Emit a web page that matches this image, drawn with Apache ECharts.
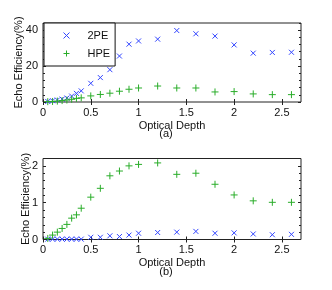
<!DOCTYPE html>
<html><head><meta charset="utf-8">
<script src="https://cdn.jsdelivr.net/npm/echarts@6/dist/echarts.min.js"></script>
<style>html,body{margin:0;padding:0;background:#fff}#c{width:332px;height:290px}</style>
</head><body><div id="c"></div>
<script>
const depth = [0.05,0.1,0.15,0.2,0.25,0.3,0.35,0.4,0.5,0.6,0.7,0.8,0.9,1.0,1.2,1.4,1.6,1.8,2.0,2.2,2.4,2.6];
const top2PE = [0.3,0.7,1.1,1.6,2.2,3.3,4.8,6.2,10.4,13.6,18,25.6,32.2,34,35,39.8,38,36.7,31.8,27.2,27.6,27.7];
const topHPE = [0.2,0.3,0.5,0.8,1.1,1.5,2.0,2.3,3.4,4.2,4.9,6,7.1,7.8,8.9,7.8,7.8,5.6,5.8,4.5,4.1,4.1];
const bot2PE = [0.01,0.01,0.01,0.01,0.01,0.01,0.01,0.01,0.06,0.06,0.1,0.08,0.12,0.17,0.19,0.2,0.22,0.17,0.18,0.15,0.13,0.14];
const botHPE = [0.03,0.12,0.2,0.3,0.41,0.58,0.67,0.85,1.15,1.39,1.73,1.86,2.0,2.04,2.08,1.77,1.8,1.5,1.21,1.05,1.01,1.01];
const xTicks = [0,0.5,1,1.5,2,2.5];
const topYTicks = [0,20,40];
const botYTicks = [0,1,2];
const topYMinor = [0,4,8,12,16,20,24,28,32,36,40,44];
const botYMinor = [0,0.2,0.4,0.6,0.8,1,1.2,1.4,1.6,1.8,2,2.2];

const FONT = 'Liberation Sans, Arial, sans-serif';
const BLUE = '#3346ff', GREEN = '#2aad2a';
const X_SYM = 'path://M0,0L10,10M10,0L0,10';
const P_SYM = 'path://M5,0L5,10M0,5L10,5';

function pairs(xs, ys){ return xs.map((x,i)=>[x, ys[i]]); }

const grids = [
  {left:43, top:23, width:258, height:79, show:true, borderColor:'#222', borderWidth:1},
  {left:43, top:158.5, width:258, height:81, show:true, borderColor:'#222', borderWidth:1}
];
const xAxes = [], yAxes = [];
[0,1].forEach(g=>{
  xAxes.push({gridIndex:g, type:'value', min:0, max:2.7, position:'bottom',
    name:'Optical Depth', nameLocation:'middle', nameGap:18, nameMoveOverlap:false,
    nameTextStyle:{fontFamily:FONT, fontSize:11, color:'#111'},
    axisLine:{show:false}, splitLine:{show:false},
    axisTick:{inside:true, length:3, customValues:xTicks, lineStyle:{color:'#222'}},
    axisLabel:{customValues:xTicks, fontFamily:FONT, fontSize:11, color:'#111', margin:5}});
  xAxes.push({gridIndex:g, type:'value', min:0, max:2.7, position:'top',
    axisLine:{show:false}, splitLine:{show:false}, axisLabel:{show:false},
    axisTick:{inside:true, length:3, customValues:xTicks, lineStyle:{color:'#222'}}});
  const max = g===0?44:2.2, maj = g===0?topYTicks:botYTicks, mnr = g===0?topYMinor:botYMinor;
  yAxes.push({gridIndex:g, type:'value', min:0, max:max, position:'left',
    name:'Echo Efficiency(%)', nameLocation:'middle', nameGap: g===0?18.5:12, nameMoveOverlap:false,
    nameTextStyle:{fontFamily:FONT, fontSize:11, color:'#111'},
    axisLine:{show:false}, splitLine:{show:false},
    axisTick:{inside:true, length:3, customValues:maj, lineStyle:{color:'#222'}},
    axisLabel:{customValues:maj, fontFamily:FONT, fontSize:11, color:'#111', margin:5}});
  yAxes.push({gridIndex:g, type:'value', min:0, max:max, position:'left',
    axisLine:{show:false}, splitLine:{show:false}, axisLabel:{show:false},
    axisTick:{inside:true, length:2, customValues:mnr, lineStyle:{color:'#222'}}});
  yAxes.push({gridIndex:g, type:'value', min:0, max:max, position:'right',
    axisLine:{show:false}, splitLine:{show:false}, axisLabel:{show:false},
    axisTick:{inside:true, length:3, customValues:maj, lineStyle:{color:'#222'}}});
  yAxes.push({gridIndex:g, type:'value', min:0, max:max, position:'right',
    axisLine:{show:false}, splitLine:{show:false}, axisLabel:{show:false},
    axisTick:{inside:true, length:2, customValues:mnr, lineStyle:{color:'#222'}}});
});

function sc(name, g, ys, sym, col, size){
  return {name:name, type:'scatter', xAxisIndex:g*2, yAxisIndex:g*4, symbol:sym, symbolSize:size,
    data:pairs(depth, ys), silent:true,
    itemStyle:{color:col, borderColor:col, borderWidth:1, opacity:1}};
}

const chart = echarts.init(document.getElementById('c'), null, {renderer:'canvas'});
chart.setOption({
  animation:false,
  backgroundColor:'#fff',
  grid:grids, xAxis:xAxes, yAxis:yAxes,
  legend:{data:['2PE','HPE'],
    orient:'vertical', left:44, top:23,
    padding:[7,5,7,19], itemGap:7, itemWidth:32, itemHeight:6,
    itemStyle:{borderWidth:1},
    borderColor:'#111', borderWidth:1, backgroundColor:'#fff',
    textStyle:{fontFamily:FONT, fontSize:11, color:'#111'}},
  graphic:[
    {type:'text', left:'center', top:128.5, style:{text:'(a)', font:'11px '+FONT, fill:'#111'}},
    {type:'text', left:'center', top:266.5, style:{text:'(b)', font:'11px '+FONT, fill:'#111'}}
  ],
  series:[
    sc('2PE',0,top2PE,X_SYM,BLUE,5),
    sc('HPE',0,topHPE,P_SYM,GREEN,7),
    sc('2PE',1,bot2PE,X_SYM,BLUE,5),
    sc('HPE',1,botHPE,P_SYM,GREEN,7)
  ]
});
</script></body></html>
